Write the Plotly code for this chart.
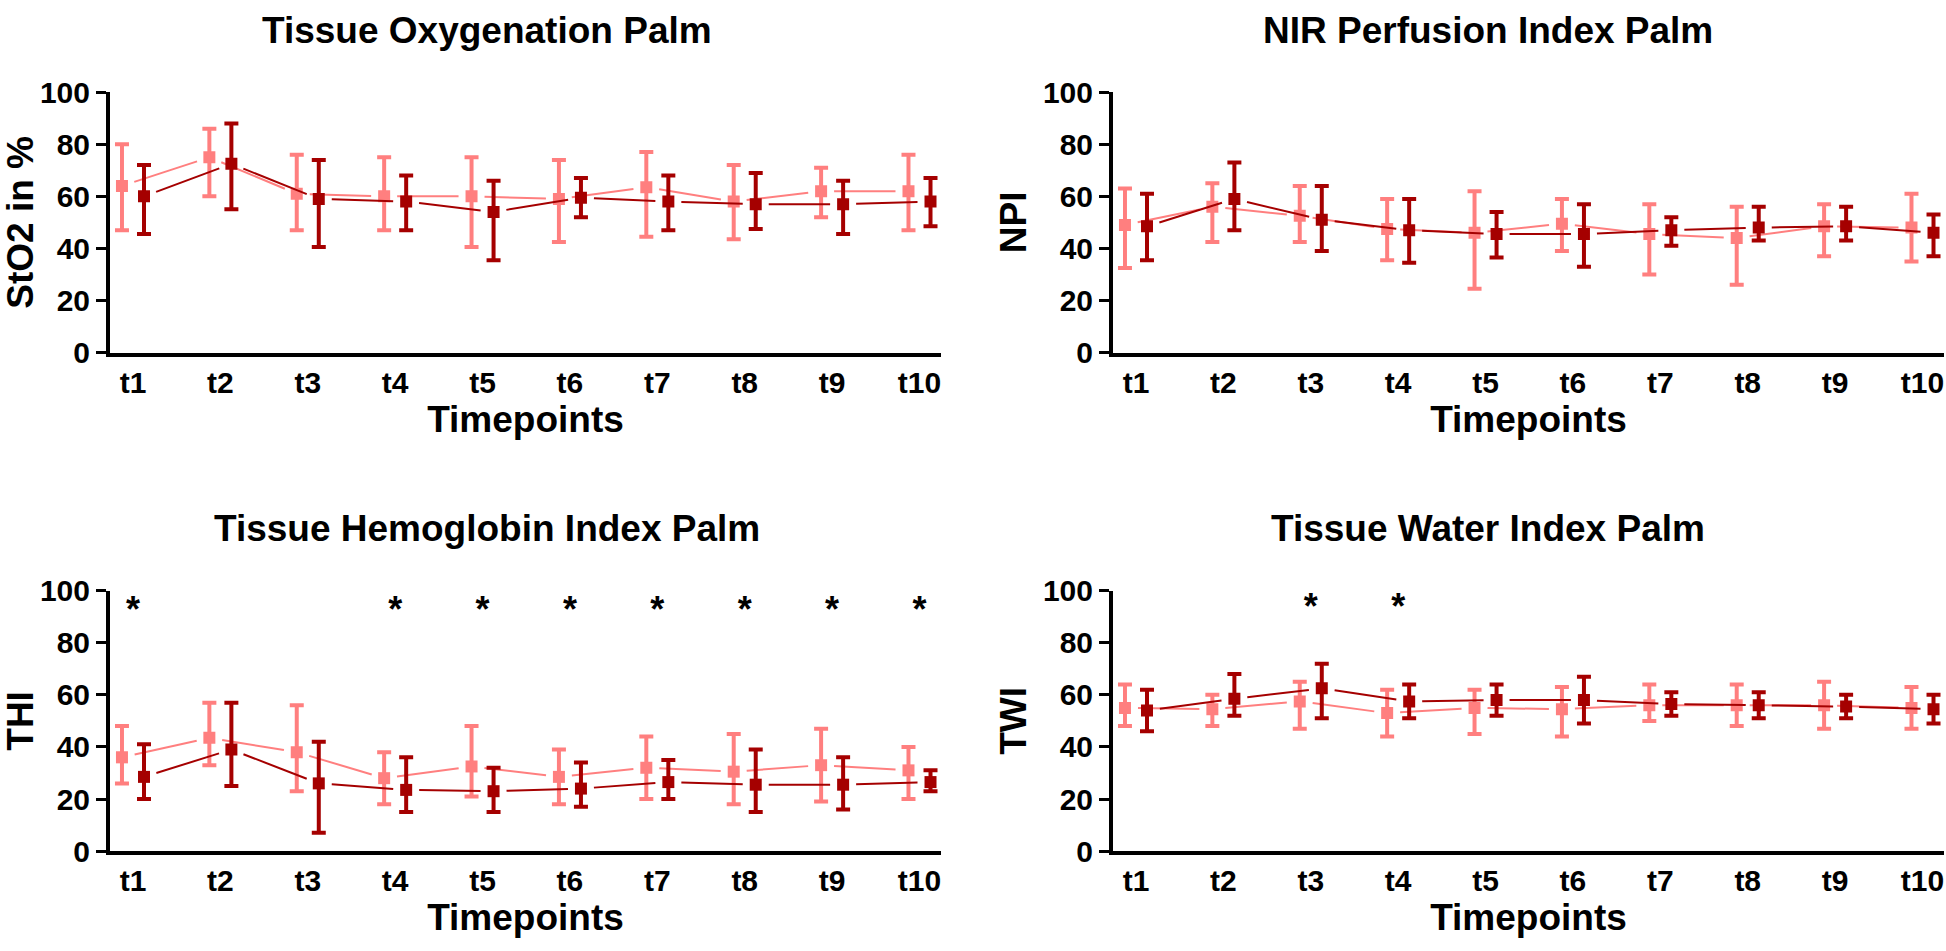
import math
import plotly.graph_objects as go

W, H = 1946, 951

timepoints = ['t1', 't2', 't3', 't4', 't5', 't6', 't7', 't8', 't9', 't10']
positions = [1, 2, 3, 4, 5, 6, 7, 8, 9, 10]

# ---- Tissue Oxygenation Palm (StO2 in %) ----
sto2_light_mean = [64, 75, 61, 60, 60, 59, 63.5, 58, 62, 62]
sto2_light_upper = [80, 86, 76, 75, 75, 74, 77, 72, 71, 76]
sto2_light_lower = [47, 60, 47, 47, 40.5, 42.5, 44.5, 43.5, 52, 47]
sto2_dark_mean = [60, 72.5, 59, 58, 54, 59.5, 58, 57, 57, 58]
sto2_dark_upper = [72, 88, 74, 68, 66, 67, 68, 69, 66, 67]
sto2_dark_lower = [45.5, 55, 40.5, 47, 35.5, 52, 47, 47.5, 45.5, 48.5]

# ---- NIR Perfusion Index Palm (NPI) ----
npi_light_mean = [49, 56, 52.5, 47.5, 46, 49.5, 45.5, 44, 48.5, 48]
npi_light_upper = [63, 65, 64, 59, 62, 59, 57, 56, 57, 61]
npi_light_lower = [32.5, 42.5, 42.5, 35.5, 24.5, 39, 30, 26, 37, 35]
npi_dark_mean = [48.5, 59, 51, 47, 45.5, 45.5, 47, 48, 48.5, 46]
npi_dark_upper = [61, 73, 64, 59, 54, 57, 52, 56, 56, 53]
npi_dark_lower = [35.5, 47, 39, 34.5, 36.5, 33, 41, 43, 43, 37]

# ---- Tissue Hemoglobin Index Palm (THI) ----
thi_light_mean = [36, 43.5, 38, 28, 32.5, 28.5, 32, 30.5, 33, 31]
thi_light_upper = [48, 57, 56, 38, 48, 39, 44, 45, 47, 40]
thi_light_lower = [26, 33, 23, 18, 21, 18, 20, 18, 19, 20]
thi_dark_mean = [28.5, 39, 26, 23.5, 23, 24, 26.5, 25.5, 25.5, 26.5]
thi_dark_upper = [41, 57, 42, 36, 32, 34, 35, 39, 36, 31]
thi_dark_lower = [20, 25, 7, 15, 15, 17, 20, 15, 16, 23]
thi_signif = ['t1', 't4', 't5', 't6', 't7', 't8', 't9', 't10']

# ---- Tissue Water Index Palm (TWI) ----
twi_light_mean = [55, 54.5, 57.5, 53, 55, 54.5, 56, 56, 56, 55]
twi_light_upper = [64, 60, 65, 62, 62, 63, 64, 64, 65, 63]
twi_light_lower = [48, 48, 47, 44, 45, 44, 50, 48, 47, 47]
twi_dark_mean = [54, 58.5, 62.5, 57.5, 58, 58, 56.5, 56, 55.5, 54.5]
twi_dark_upper = [62, 68, 72, 64, 64, 67, 61, 61, 60, 60]
twi_dark_lower = [46, 52, 51, 51, 52, 49, 52, 51, 51, 49]
twi_signif = ['t3', 't4']

LIGHT = '#FF7F7F'
DARK = '#A50000'
FONT = 'Liberation Sans, Arial, sans-serif'
OFFSET = 0.126          # horizontal dodge of the two groups (category units)
XRANGE = [0.737, 10.246]
YRANGE = [0, 100]
LINE_GAP = 13           # px gap between connecting line and marker
STAR_Y = {'THI': 91.5, 'TWI': 92.5}

panels = [
    dict(title='Tissue Oxygenation Palm', ytitle='StO2 in %',
         light=(sto2_light_mean, sto2_light_upper, sto2_light_lower),
         dark=(sto2_dark_mean, sto2_dark_upper, sto2_dark_lower), sig=[]),
    dict(title='NIR Perfusion Index Palm', ytitle='NPI',
         light=(npi_light_mean, npi_light_upper, npi_light_lower),
         dark=(npi_dark_mean, npi_dark_upper, npi_dark_lower), sig=[]),
    dict(title='Tissue Hemoglobin Index Palm', ytitle='THI',
         light=(thi_light_mean, thi_light_upper, thi_light_lower),
         dark=(thi_dark_mean, thi_dark_upper, thi_dark_lower), sig=thi_signif),
    dict(title='Tissue Water Index Palm', ytitle='TWI',
         light=(twi_light_mean, twi_light_upper, twi_light_lower),
         dark=(twi_dark_mean, twi_dark_upper, twi_dark_lower), sig=twi_signif),
]

# pixel layout of plot areas: (x0, x1, ytop, ybottom)
boxes = [
    (110, 941, 78, 348),
    (1113, 1944, 78, 348),
    (110, 941, 595, 865),
    (1113, 1944, 595, 865),
]
title_centers = [(487, 14), (1488, 14), (487, 530), (1488, 530)]


def gapped_line(xs, ys, px_x, px_y, gap):
    """Connecting segments shortened near the markers (Prism style)."""
    lx, ly = [], []
    for k in range(len(xs) - 1):
        dx = (xs[k + 1] - xs[k]) * px_x
        dy = (ys[k + 1] - ys[k]) * px_y
        L = math.hypot(dx, dy)
        if L <= 2 * gap:
            continue
        f = gap / L
        lx += [xs[k] + (xs[k + 1] - xs[k]) * f, xs[k + 1] - (xs[k + 1] - xs[k]) * f, None]
        ly += [ys[k] + (ys[k + 1] - ys[k]) * f, ys[k + 1] - (ys[k + 1] - ys[k]) * f, None]
    return lx, ly


fig = go.Figure()
layout_axes = {}
annotations = []

for i, (p, box) in enumerate(zip(panels, boxes)):
    n = i + 1
    xa = 'x' if n == 1 else f'x{n}'
    ya = 'y' if n == 1 else f'y{n}'
    xkey = 'xaxis' if n == 1 else f'xaxis{n}'
    ykey = 'yaxis' if n == 1 else f'yaxis{n}'
    x0, x1, yt, yb = box
    px_x = (x1 - x0) / (XRANGE[1] - XRANGE[0])
    px_y = (yb - yt) / (YRANGE[1] - YRANGE[0])

    for series, color, sign in ((p['light'], LIGHT, -1), (p['dark'], DARK, 1)):
        mean, up, lo = series
        xs = [v + sign * OFFSET for v in positions]
        lx, ly = gapped_line(xs, mean, px_x, px_y, LINE_GAP)
        fig.add_trace(go.Scatter(
            x=lx, y=ly, xaxis=xa, yaxis=ya, mode='lines',
            line=dict(color=color, width=2),
            showlegend=False, hoverinfo='skip'))
        fig.add_trace(go.Scatter(
            x=xs, y=mean, xaxis=xa, yaxis=ya, mode='markers',
            marker=dict(symbol='square', size=12, color=color),
            error_y=dict(type='data', symmetric=False,
                         array=[u - m for u, m in zip(up, mean)],
                         arrayminus=[m - l for m, l in zip(mean, lo)],
                         color=color, thickness=4, width=7),
            showlegend=False, hoverinfo='skip'))

    if p['sig']:
        sx = [positions[timepoints.index(t)] for t in p['sig']]
        fig.add_trace(go.Scatter(
            x=sx, y=[STAR_Y[p['ytitle']]] * len(sx), xaxis=xa, yaxis=ya,
            mode='text', text=['*'] * len(sx),
            textfont=dict(family=FONT, size=36, color='black', weight='bold'),
            showlegend=False, hoverinfo='skip'))

    layout_axes[xkey] = dict(
        domain=[x0 / W, x1 / W], anchor=ya, range=XRANGE,
        tickmode='array', tickvals=positions, ticktext=timepoints,
        ticks='', showgrid=False, zeroline=False,
        showline=True, linecolor='black', linewidth=4,
        tickfont=dict(family=FONT, size=30, color='black', weight='bold'),
        ticklabelstandoff=0,
        title=dict(text='Timepoints', standoff=0,
                   font=dict(family=FONT, size=37, color='black', weight='bold')))
    layout_axes[ykey] = dict(
        domain=[1 - yb / H, 1 - yt / H], anchor=xa, range=YRANGE,
        tickmode='array', tickvals=[0, 20, 40, 60, 80, 100],
        ticks='outside', ticklen=10, tickwidth=3, tickcolor='black',
        showgrid=False, zeroline=False,
        showline=True, linecolor='black', linewidth=4,
        tickfont=dict(family=FONT, size=30, color='black', weight='bold'),
        title=dict(text=p['ytitle'], standoff=6,
                   font=dict(family=FONT, size=37, color='black', weight='bold')))

    cx, cy = title_centers[i]
    annotations.append(dict(
        text=p['title'], x=cx / W, y=1 - cy / H, xref='paper', yref='paper',
        xanchor='center', yanchor='middle', showarrow=False,
        font=dict(family=FONT, size=37, color='black', weight='bold')))

fig.update_layout(
    width=W, height=H,
    margin=dict(l=0, r=0, t=0, b=0),
    paper_bgcolor='white', plot_bgcolor='white',
    hovermode=False,
    annotations=annotations,
    **layout_axes)

fig.write_html('out.html', config={'displayModeBar': False},
               post_script="document.body.style.margin='0px';")
